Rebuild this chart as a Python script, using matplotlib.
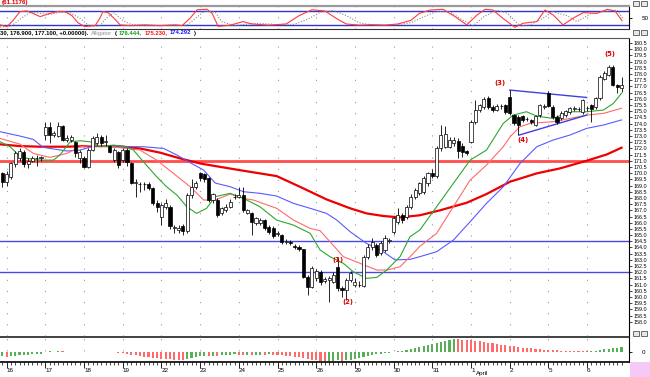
import matplotlib
matplotlib.use("Agg")
import matplotlib.pyplot as plt
from matplotlib.patches import Rectangle

W, H = 650, 377

# hourly candles, 9 bars a session (bar 0 = last bar of the 15th)
opens = [170.0, 169.3, 169.7, 170.7, 171.2, 171.7, 170.75, 171.0, 171.2, 171.25,
         173.1, 173.7, 173.1, 173.0, 173.8, 172.7, 172.7, 172.5, 171.2,
         171.2, 170.5, 171.9, 172.4, 172.9, 172.5, 172.2, 171.05, 171.7,
         171.05, 171.9, 170.8, 169.2, 169.15, 169.1, 169.1, 168.8, 167.6,
         166.5, 167.3, 167.3, 165.6, 165.4, 165.7, 165.3, 168.2, 168.9,
         170.0, 169.9, 169.6, 167.8, 167.83, 166.75, 167.0, 167.3, 168.05,
         168.1, 168.23, 166.8, 166.75, 165.95, 165.95, 166.2, 165.68, 165.6,
         165.1, 165.0, 164.45, 164.4, 164.1, 164.06, 163.85, 161.65, 160.84,
         161.5, 162.05, 161.3, 161.38, 161.24, 162.45, 160.7, 160.57, 161.38,
         161.0, 160.97, 160.89, 163.26, 164.0, 164.2, 163.53, 163.8, 164.55,
         165.27, 166.08, 166.62, 166.48, 167.29, 168.1, 168.37, 168.5, 169.17,
         170.03, 169.76, 171.99, 172.13, 172.13, 172.4, 172.59, 172.18, 171.78,
         172.53, 174.15, 175.09, 175.35, 176.03, 175.35, 175.09, 175.41, 175.49,
         176.11, 174.68, 174.55, 174.6, 174.33, 174.28, 173.88, 174.68, 175.35,
         176.43, 175.35, 174.55, 174.41, 174.68, 174.95, 175.2, 175.14, 174.95,
         175.22, 175.49, 175.35, 176.03, 177.63, 177.91, 178.58, 177.1, 176.9]
highs = [170.1, 170.2, 170.9, 171.8, 172.0, 171.9, 171.2, 171.4, 171.5, 171.4,
         174.1, 174.1, 173.4, 174.1, 173.9, 173.1, 173.1, 172.6, 171.9,
         171.4, 172.0, 173.0, 173.2, 173.1, 173.1, 172.3, 172.0, 171.8,
         172.0, 172.0, 170.9, 169.5, 169.3, 169.3, 169.3, 168.9, 167.8,
         167.6, 167.9, 167.4, 165.8, 165.8, 165.9, 168.4, 169.5, 169.4,
         170.1, 170.0, 169.7, 168.4, 168.0, 167.3, 167.5, 167.9, 168.3,
         168.9, 168.9, 167.1, 166.9, 166.5, 166.4, 166.3, 165.8, 165.7,
         165.3, 165.1, 164.7, 164.6, 164.3, 164.2, 163.9, 161.8, 162.5,
         162.3, 162.2, 161.6, 161.7, 162.0, 163.26, 160.9, 161.5, 162.1,
         161.5, 161.3, 163.4, 164.3, 164.8, 164.4, 164.5, 165.0, 164.8,
         166.5, 167.2, 166.8, 167.4, 168.3, 168.8, 169.3, 169.8, 170.1,
         170.3, 172.2, 173.88, 173.8, 172.9, 172.9, 172.8, 172.4, 171.9,
         174.3, 175.89, 175.6, 176.1, 176.2, 175.5, 175.6, 175.6, 175.6,
         176.7, 174.8, 174.7, 174.7, 174.5, 174.4, 174.7, 175.6, 175.6,
         176.6, 175.5, 174.7, 175.0, 175.1, 175.3, 175.4, 175.3, 176.0,
         175.4, 175.6, 176.1, 177.9, 178.2, 178.72, 178.7, 177.2, 177.77]
lows = [168.9, 169.0, 169.5, 170.5, 171.0, 170.5, 170.4, 170.9, 170.6, 171.0,
        172.7, 172.4, 172.9, 172.9, 172.6, 172.5, 172.5, 171.3, 170.8,
        170.4, 170.4, 171.8, 172.3, 172.2, 172.2, 171.6, 170.9, 170.4,
        170.9, 170.6, 169.1, 168.1, 168.5, 168.6, 168.6, 167.4, 166.9,
        165.8, 167.1, 165.5, 165.2, 165.2, 165.0, 165.2, 168.0, 168.7,
        169.4, 169.3, 167.7, 167.6, 166.5, 166.6, 166.9, 167.2, 167.9,
        168.0, 166.9, 166.7, 165.0, 165.8, 165.8, 165.4, 165.1, 164.8,
        164.9, 164.3, 164.3, 164.2, 163.9, 163.7, 161.5, 160.17, 160.7,
        161.3, 161.0, 161.1, 159.63, 161.1, 160.5, 160.0, 159.76, 161.2,
        160.8, 160.8, 160.8, 163.1, 163.8, 163.2, 163.4, 163.6, 164.4,
        165.1, 165.9, 166.0, 166.3, 167.1, 167.9, 168.2, 168.3, 169.0,
        169.6, 169.6, 171.8, 172.0, 172.0, 172.2, 171.2, 171.32, 171.5,
        172.4, 174.0, 174.9, 175.2, 175.2, 174.9, 175.0, 175.2, 174.8,
        174.7, 173.9, 173.07, 174.1, 174.2, 174.0, 173.8, 174.5, 175.2,
        175.3, 174.4, 174.0, 174.3, 174.5, 174.8, 175.0, 175.0, 174.8,
        175.0, 174.15, 175.2, 175.9, 177.5, 177.8, 177.0, 176.43, 176.56]
closes = [169.3, 169.9, 170.8, 171.6, 171.8, 170.7, 171.0, 171.2, 171.25, 171.3,
          173.7, 173.1, 173.2, 173.8, 172.7, 172.8, 172.9, 171.6, 171.7,
          170.5, 171.9, 172.8, 172.9, 172.4, 172.6, 171.7, 171.9, 170.65,
          171.9, 170.9, 169.2, 169.25, 169.1, 169.1, 168.8, 167.6, 167.3,
          167.4, 167.6, 165.7, 165.6, 165.6, 165.3, 168.2, 168.9, 169.2,
          169.6, 169.5, 167.8, 168.3, 166.62, 167.16, 167.3, 167.7, 168.1,
          168.2, 167.02, 167.0, 166.08, 166.35, 166.2, 165.54, 165.27, 164.92,
          165.14, 164.47, 164.5, 164.39, 164.06, 163.85, 161.65, 160.84, 162.32,
          162.1, 161.24, 161.43, 161.51, 161.78, 160.7, 160.57, 161.38, 161.91,
          161.19, 161.0, 163.26, 164.06, 164.47, 163.39, 164.33, 164.74, 164.6,
          166.35, 166.62, 166.21, 167.29, 168.1, 168.63, 169.17, 169.6, 169.98,
          169.76, 171.99, 173.07, 173.12, 172.67, 172.67, 171.78, 171.73, 171.59,
          174.15, 175.09, 175.49, 175.95, 175.35, 175.09, 175.41, 175.45, 174.95,
          174.82, 174.01, 173.88, 174.28, 174.35, 174.15, 174.6, 175.49, 175.38,
          175.41, 174.55, 174.15, 174.87, 175.01, 175.22, 175.22, 175.16, 175.89,
          175.25, 175.14, 176.03, 177.77, 178.04, 178.58, 177.1, 176.97, 177.1]

# overlays: (bar position, price)
sma_x = [-0.5, 4.1, 8.8, 15.0, 19.6, 24.3, 28.1, 32.0, 36.7, 41.3, 46.0, 49.5, 56.1,
         63.8, 69.2, 75.4, 80.9, 84.7, 88.6, 92.5, 97.1, 101.8, 108.0, 112.6, 118.1,
         124.3, 129.7, 135.9, 140.6, 144.0]
sma_y = [172.32, 172.18, 172.13, 172.13, 172.18, 172.18, 172.13, 171.99, 171.65, 171.19,
         170.78, 170.57, 170.19, 169.76, 168.9, 167.88, 167.16, 166.75, 166.54, 166.43,
         166.6, 167.0, 167.61, 168.31, 169.31, 169.98, 170.38, 171.0, 171.51, 172.05]
jaw_x = [-0.5, 4.1, 7.2, 9.5, 15.0, 18.1, 21.2, 25.1, 29.0, 32.8, 37.5, 40.6, 43.7, 46.8,
         49.5, 53.0, 56.1, 59.9, 63.8, 67.7, 71.6, 75.4, 77.8, 80.9, 84.7, 88.6, 91.3,
         94.8, 97.1, 101.0, 104.9, 108.8, 112.6, 116.5, 120.4, 124.3, 128.1, 132.0,
         135.9, 139.8, 144.0]
jaw_y = [173.34, 172.99, 172.72, 172.08, 171.78, 171.86, 172.18, 172.18, 172.13, 172.13,
         171.99, 171.46, 170.84, 170.25, 169.2, 168.9, 168.5, 168.37, 168.15, 167.56,
         167.16, 166.75, 166.21, 165.27, 164.33, 163.66, 163.0, 163.04, 163.26, 163.66,
         164.6, 166.08, 167.56, 168.9, 170.78, 172.13, 172.67, 173.07, 173.61, 173.88,
         174.29]
teeth_x = [-0.5, 4.1, 7.2, 11.1, 15.0, 18.1, 21.2, 25.1, 29.0, 32.0, 35.9, 39.8, 43.7,
           46.8, 49.5, 53.0, 56.1, 58.4, 63.8, 67.7, 71.6, 73.9, 76.2, 79.3, 83.2, 87.1,
           89.4, 92.5, 95.6, 97.1, 101.0, 104.9, 108.8, 112.6, 116.5, 118.1, 120.4, 122.7,
           128.1, 132.0, 135.9, 139.8, 144.0]
teeth_y = [172.8, 172.34, 171.59, 171.27, 171.59, 172.13, 172.26, 172.13, 171.99, 171.86,
           171.05, 169.98, 168.9, 167.83, 167.83, 168.31, 167.96, 167.83, 167.16, 166.21,
           165.54, 165.35, 164.47, 163.26, 162.72, 162.18, 162.18, 162.45, 163.53, 164.1,
           165.14, 167.29, 169.44, 170.65, 172.13, 172.94, 173.74, 174.01, 174.15, 174.41,
           174.68, 174.82, 175.23]
lips_x = [-0.5, 1.8, 3.4, 5.7, 8.8, 11.9, 13.4, 15.8, 18.1, 20.4, 22.7, 25.8, 28.2, 30.5,
          32.8, 35.9, 38.2, 40.6, 42.9, 45.2, 47.5, 49.5, 53.0, 56.1, 59.9, 63.8, 67.7,
          71.6, 73.9, 76.2, 79.3, 81.6, 84.7, 87.1, 89.4, 92.5, 94.8, 97.1, 101.0, 104.9,
          108.8, 112.6, 116.5, 118.8, 121.9, 124.3, 128.1, 132.0, 135.9, 139.8, 142.1, 144.0]
lips_y = [172.53, 172.13, 171.59, 171.19, 171.05, 171.05, 171.46, 172.53, 172.61, 172.53,
          172.13, 172.26, 172.18, 171.86, 170.92, 169.71, 168.9, 168.23, 167.29, 166.75,
          167.16, 168.1, 168.37, 167.96, 167.29, 166.21, 165.81, 165.14, 163.8, 163.26,
          162.72, 162.05, 161.51, 161.59, 162.18, 163.26, 164.87, 165.41, 167.29, 169.17,
          171.05, 171.86, 174.01, 174.68, 174.95, 174.6, 174.41, 174.95, 174.95, 175.09,
          175.62, 176.44]

red_level = 171.0
blue_levels = [164.5, 162.0]
tri_up_x, tri_up_y = [118.0, 135.9], [176.7, 176.1]
tri_lo_x, tri_lo_y = [120.2, 135.9], [173.07, 174.68]

wave_text = ["(1)", "(2)", "(3)", "(4)", "(5)"]
wave_x = [78.0, 80.3, 115.7, 121.0, 141.2]
wave_y = [163.0, 159.6, 177.3, 172.7, 179.6]

# lower histogram (arbitrary units)
hist = [-4, -4.5, -4, -3.5, -3, -2.5, -2.5, -2, -2, -1.5,
        0.6, 0.9, 0.7, 1.0, 0.8, 0.5, 0.7, 0.4, 0.3,
        0.4, 0.2, 0.5, 0.3, 0.5, 0.2, 0.0, 0.2, -0.3,
        -1, -1.5, -2.5, -3, -4, -4.5, -5, -5.5, -6,
        -6.5, -6.8, -7, -7.2, -7.5, -7.8, -7, -6, -5,
        -4, -3.5, -3.8, -3.2, -3.6, -3.0, -2.6, -2.2, -2.0,
        -2.4, -2.8, -2.5, -2.9, -2.6, -2.2, -2.4, -2.0, -2.3,
        -2.5, -3, -3.5, -4, -4.5, -5, -6, -7, -7.5,
        -8, -8.3, -8.5, -8.5, -8.2, -8, -8.3, -8, -7.5,
        -7, -6, -5, -4, -3, -2, -1.5, -1, -0.5,
        0.2, 0.8, 1.5, 2.5, 3.5, 4.5, 5.5, 6.5, 7.5,
        8.5, 9.5, 10.5, 11.5, 12.3, 13, 12.8, 12.5, 12.2,
        11.8, 11.3, 10.8, 10.3, 9.6, 9, 8.3, 7.6, 7,
        6.3, 5.8, 5.2, 4.7, 4.2, 3.8, 3.4, 3.0, 2.7,
        2.4, 2.1, 1.9, 1.7, 1.5, 1.4, 1.3, 1.2, 1.1,
        1.0, 1.3, 1.7, 2.2, 2.8, 3.4, 4.0, 4.5, 4.8]

# stochastic in the top strip
k_x = [-0.5, 1.1, 2.5, 4.1, 5.7, 7.1, 8.8, 11.1, 12.7, 14.6, 16.2, 17.6, 19.2, 21.6, 22.7,
       23.4, 24.6, 26.2, 27.4, 29.7, 33.2, 36.7, 40.2, 41.8, 43.7, 45.3, 47.6, 48.8, 50.2,
       53, 56, 58, 62, 66, 69, 72, 75, 78, 80, 83, 86, 89, 92, 95, 97, 99.5, 102.5, 105.3,
       108, 110.4, 112.3, 114.1, 116.4, 119.2, 121.1, 124.3, 126.2, 128.1, 130.4, 132.7,
       135.1, 138.3, 140.7, 142.5, 144.1]
k_v = [21, 14, 40, 77, 80, 70, 56, 70, 77, 77, 60, 30, 14, 18, 50,
       77, 73, 45, 21, 18, 21, 18, 21, 18, 50, 85, 87, 70, 15,
       20, 35, 25, 20, 25, 60, 85, 80, 45, 25, 20, 22, 20, 25, 40, 70, 84, 87, 56,
       21, 63, 87, 84, 49, 11, 28, 35, 84, 63, 21, 49,
       73, 70, 87, 80, 39]
d_x = [-0.5, 2, 4.5, 6.5, 9, 11, 13, 15.5, 18, 20, 22.5, 24.5, 26, 28, 30, 35, 40, 43,
       45, 47, 49.5, 51, 54, 57, 60, 64, 68, 71, 74, 77, 80, 83, 86, 89, 92, 95, 98,
       101, 104, 107, 109.5, 112, 115, 117.5, 120.4, 122.7, 125.7, 128, 131.3, 133.7,
       136.7, 139.7, 143, 144.4]
d_v = [12, 15, 50, 75, 70, 65, 73, 75, 50, 20, 15, 55, 72, 40, 22, 18, 20, 20,
       50, 80, 75, 35, 18, 25, 28, 22, 24, 45, 75, 82, 60, 30, 21, 21, 22, 30, 55,
       78, 77, 42, 17, 56, 84, 70, 17, 21, 49, 77, 60, 35,
       67, 77, 84, 45]

day_labels = ["16", "17", "18", "19", "22", "23", "24", "25", "26", "29",
              "30", "31", "1", "2", "5", "6"]
day_start = [1, 10, 19, 28, 37, 46, 55, 64, 73, 82, 91, 100, 109, 118, 127, 136]

fig = plt.figure(figsize=(W / 100, H / 100), dpi=100)
FONT = "Liberation Sans"


def box(x0, y0, x1, y1):
    return [x0 / W, 1 - y1 / H, (x1 - x0) / W, (y1 - y0) / H]


xlim = (-0.535, 145.74)
grid_kw = dict(color="#9a9a9a", lw=0.8, ls=(0, (1, 9)), zorder=0)

# ---- main price panel ----
ax = fig.add_axes(box(0, 37.5, 629, 336))
ax.set_xlim(*xlim)
ax.set_ylim(156.86, 180.94)
for d in day_start:
    ax.axvline(d, **grid_kw)

ax.axhline(red_level, color="#ff4c4c", lw=2.0, zorder=1)
for b in blue_levels:
    ax.axhline(b, color="#4848e8", lw=1.0, zorder=1)

ax.plot(sma_x, sma_y, color="#ee0000", lw=1.6, zorder=2)
ax.plot(jaw_x, jaw_y, color="#5a5aff", lw=0.8, zorder=2)
ax.plot(teeth_x, teeth_y, color="#ff6a6a", lw=0.8, zorder=2)
ax.plot(lips_x, lips_y, color="#2ca82c", lw=0.8, zorder=2)
ax.plot(tri_up_x, tri_up_y, color="#4040e0", lw=1.0, zorder=2)
ax.plot(tri_lo_x, tri_lo_y, color="#4040e0", lw=1.0, zorder=2)

for i, (o, h, l, c) in enumerate(zip(opens, highs, lows, closes)):
    ax.vlines(i, l, h, color="black", lw=0.6, zorder=3)
    face = "white" if c >= o else "black"
    ax.add_patch(Rectangle((i - 0.36, min(o, c)), 0.72, max(abs(c - o), 0.03),
                           facecolor=face, edgecolor="black", lw=0.5, zorder=4))

for t, x, y in zip(wave_text, wave_x, wave_y):
    ax.text(x, y, t, color="#e00000", fontsize=5, fontweight="bold",
            ha="center", va="center", zorder=5)

ax.yaxis.tick_right()
ticks = [158 + 0.5 * k for k in range(46)]
ax.set_yticks(ticks)
ax.set_yticklabels([f"{t:.1f}" for t in ticks], fontsize=3.9, family=FONT)
ax.tick_params(axis="y", length=2, width=0.5, pad=1)
ax.set_xticks([])
for s in ("left", "bottom"):
    ax.spines[s].set_visible(False)
ax.spines["top"].set_color("#555555")
ax.spines["right"].set_linewidth(0.8)

# ---- top stochastic strip ----
at = fig.add_axes(box(0, 6, 629, 28.7))
at.set_xlim(*xlim)
at.set_ylim(5, 101)
for d in day_start:
    at.axvline(d, **grid_kw)
at.axhline(80, color="#3434c8", lw=1.0)
at.axhline(20, color="#3434c8", lw=1.0)
at.plot(d_x, d_v, color="#8a8a8a", lw=0.8, ls=(0, (1, 1.5)))
at.plot(k_x, k_v, color="#ff3b3b", lw=0.8)
at.yaxis.tick_right()
at.set_yticks([50])
at.set_yticklabels(["50"], fontsize=4.5, family=FONT)
at.tick_params(axis="y", length=2, width=0.6, pad=7)
at.set_xticks([])
at.spines["left"].set_visible(False)
at.spines["top"].set_color("#9a9a9a")
at.spines["top"].set_linewidth(1.6)
at.spines["bottom"].set_color("#333333")
at.spines["right"].set_linewidth(0.8)

# ---- lower histogram ----
ab = fig.add_axes(box(0, 337, 629, 362))
ab.set_xlim(*xlim)
ab.set_ylim(-9.5, 15)
for d in day_start:
    ab.axvline(d, **grid_kw)
cols = []
for i, v in enumerate(hist):
    up = i == 0 or v >= hist[i - 1]
    cols.append("#3aa33a" if up else "#ff5050")
ab.bar(range(len(hist)), hist, width=0.5, color=cols, alpha=0.85, zorder=2)
ab.yaxis.tick_right()
ab.set_yticks([0])
ab.set_yticklabels(["0"], fontsize=4.5, family=FONT)
ab.tick_params(axis="y", length=2, width=0.6, pad=7)
ab.set_xticks(day_start)
ab.set_xticklabels(day_labels, fontsize=4.5, family=FONT)
for lab in ab.get_xticklabels():
    lab.set_horizontalalignment("left")
ab.set_xticks(range(len(hist)), minor=True)
ab.tick_params(axis="x", which="major", length=4, width=0.6, pad=0.5)
ab.tick_params(axis="x", which="minor", length=2, width=0.5)
ab.spines["left"].set_visible(False)
ab.spines["top"].set_color("#222222")
ab.spines["top"].set_linewidth(1.2)
ab.spines["bottom"].set_linewidth(1.2)
ab.spines["right"].set_linewidth(0.8)
fig.text(476 / W, 1 - 373 / H, "April", fontsize=4.5, family=FONT,
         ha="left", va="center")

# ---- header texts ----
fig.text(2 / W, 1 - 2.5 / H, "(61.1176)", color="#e00000", fontsize=4.5,
         fontweight="bold", family=FONT, va="center")
renderer = fig.canvas.get_renderer()
hy = 1 - 33 / H
parts = [("30, 176.900, 177.100, +0.00000).", "black", "bold"),
         ("Alligator", "#909090", "normal"), ("(", "black", "bold"),
         ("176.444,", "#109a10", "bold"), ("175.230,", "#ff1010", "bold"),
         ("174.292", "#1010ff", "bold"), (")", "black", "bold")]
x = 0.0
for t, c, wgt in parts:
    txt = fig.text(x / W, hy, t, color=c, fontsize=4.2, family=FONT,
                   fontweight=wgt, va="center")
    x = txt.get_window_extent(renderer).x1 + 2.5

# window buttons and corner swatch
for yy in (0.5, 29.5, 330.5):
    for xx in (633, 641):
        fig.patches.append(Rectangle((xx / W, 1 - (yy + 5.5) / H), 6 / W, 5.5 / H,
                                     transform=fig.transFigure, facecolor="#e8e8e8",
                                     edgecolor="#333333", lw=0.5))
fig.patches.append(Rectangle((630 / W, 0), 20 / W, 15 / H, transform=fig.transFigure,
                             facecolor="#f6c8f6", edgecolor="none"))

fig.savefig("out.png", dpi=100)
